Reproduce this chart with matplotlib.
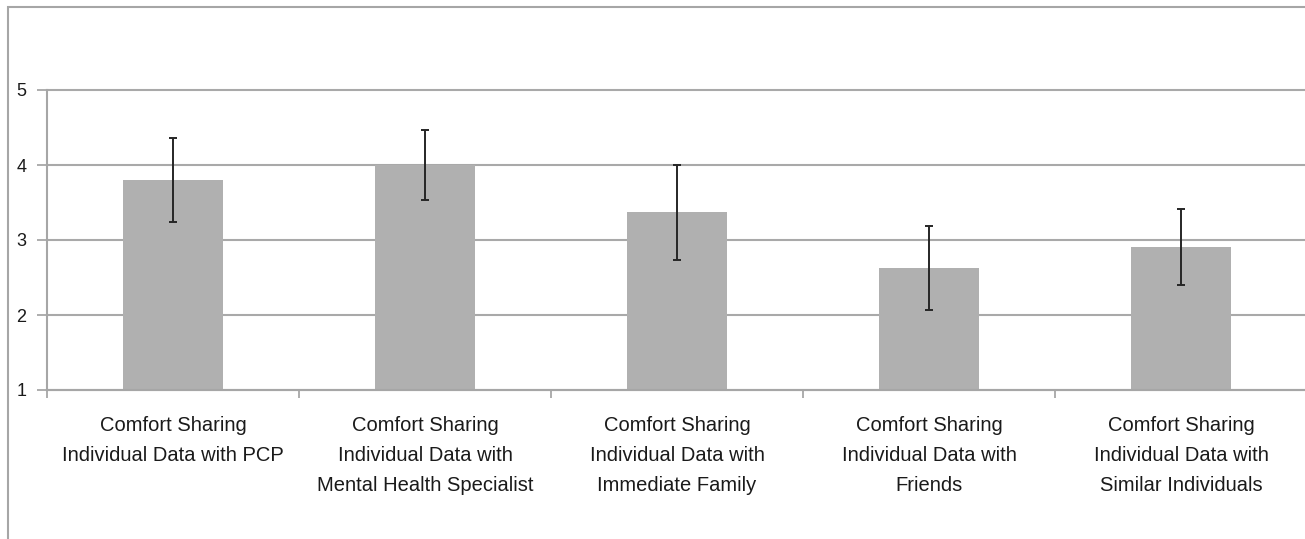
import numpy as np
import matplotlib.pyplot as plt
from matplotlib.patches import Rectangle

# values
categories = [
    "Comfort Sharing\nIndividual Data with PCP",
    "Comfort Sharing\nIndividual Data with\nMental Health Specialist",
    "Comfort Sharing\nIndividual Data with\nImmediate Family",
    "Comfort Sharing\nIndividual Data with\nFriends",
    "Comfort Sharing\nIndividual Data with\nSimilar Individuals",
]
means = [3.80, 4.00, 3.37, 2.63, 2.91]
errors = [0.56, 0.47, 0.63, 0.56, 0.51]
yticks = [1, 2, 3, 4, 5]

plt.rcParams['font.family'] = ['Liberation Sans', 'DejaVu Sans']

W, H = 1305, 539
fig = plt.figure(figsize=(W / 100, H / 100), dpi=100)

# outer chart frame (left and top edges show in the crop)
fig.patches.append(Rectangle((8 / W, -0.1), 1.2, 1.1 - 7 / H, transform=fig.transFigure,
                             fill=False, edgecolor='#a6a6a6', linewidth=1.5))

ax = fig.add_axes([47 / W, 1 - 390 / H, 1260 / W, 300 / H])

x = np.arange(len(categories))
ax.bar(x, means, width=0.4, bottom=0, color='#b0b0b0', zorder=2)
ax.errorbar(x, means, yerr=errors, fmt='none', ecolor='#262626', elinewidth=1.4,
            capsize=3, capthick=1.4, zorder=3)

ax.set_xlim(-0.5, len(categories) - 0.5)
ax.set_ylim(1, 5)
ax.set_yticks(yticks)
ax.yaxis.grid(True, color='#a9a9a9', linewidth=1.5, zorder=1)
ax.set_axisbelow(True)
for gl in ax.get_ygridlines():
    gl.set_clip_on(False)

ax.set_xticks(x)
ax.set_xticklabels(categories, fontsize=14.5, color='#1a1a1a', linespacing=1.72)
ax.set_xticks(np.arange(len(categories)) - 0.5, minor=True)
ax.tick_params(axis='x', which='major', length=0, pad=19)
ax.tick_params(axis='x', which='minor', length=6, width=1.2, color='#a0a0a0', direction='out')
ax.tick_params(axis='y', length=7, width=1.2, color='#a0a0a0', labelsize=13,
               labelcolor='#1a1a1a', pad=8)

for s in ['top', 'right']:
    ax.spines[s].set_visible(False)
for s in ['left', 'bottom']:
    ax.spines[s].set_color('#a6a6a6')
    ax.spines[s].set_linewidth(1.5)

fig.savefig('out.png', dpi=100)
